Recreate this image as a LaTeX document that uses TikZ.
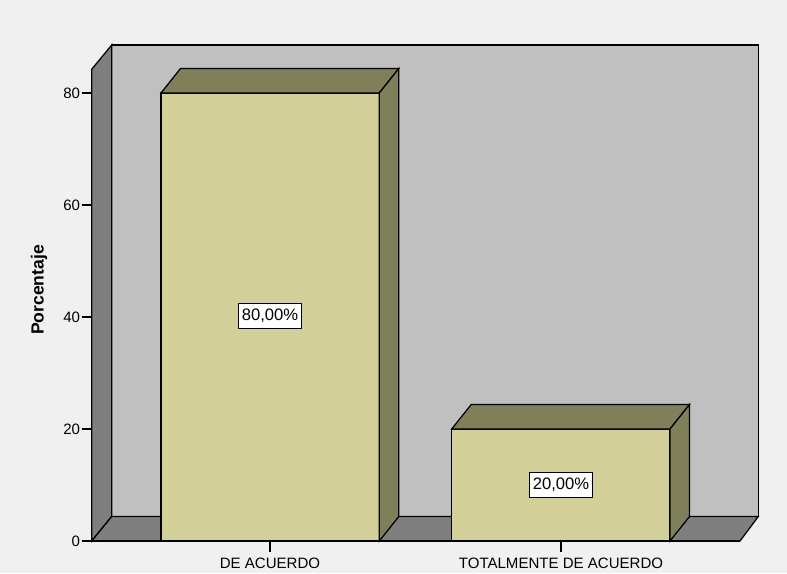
\documentclass[tikz,border=0pt]{standalone}
\usepackage{fontspec}
\setmainfont{Liberation Sans}
\definecolor{fondo}{HTML}{F0F0F0}
\definecolor{pared}{HTML}{C0C0C0}
\definecolor{suelo}{HTML}{7F7F7F}
\definecolor{barra}{HTML}{D3CF98}
\definecolor{barralado}{HTML}{7F7F5A}
\tikzset{
  caja/.style={draw,fill=white,line width=0.6pt,inner sep=0pt,minimum width=45pt,minimum height=18pt,font=\fontsize{11.8}{13}\selectfont},
  borde/.style={draw=black,line width=0.9pt,line join=miter}
}
\begin{document}
\begin{tikzpicture}[x=0.025cm,y=-0.025cm,font=\fontsize{10.7}{12}\selectfont]
\fill[fondo] (0,0) rectangle (787,573);
% back wall, left wall and floor
\draw[borde,fill=pared] (111.7,45) rectangle (758.3,516.5);
\draw[borde,fill=suelo] (91.7,69.3) -- (111.7,45) -- (111.7,516.5) -- (91.7,541) -- cycle;
\draw[borde,fill=suelo] (91.7,541) -- (111.7,516.5) -- (758.3,516.5) -- (740,541) -- cycle;
% bars: left edge / value
\foreach \x/\v in {161/80,451.7/20}{
  \pgfmathsetmacro{\t}{541-5.6*\v}
  \draw[borde,fill=barra] (\x,541) rectangle (\x+218.3,\t);
  \draw[borde,fill=barralado] (\x,\t) -- (\x+19.5,\t-24.5) -- (\x+237.8,\t-24.5) -- (\x+218.3,\t) -- cycle;
  \draw[borde,fill=barralado] (\x+218.3,541) -- (\x+218.3,\t) -- (\x+237.8,\t-24.5) -- (\x+237.8,516.5) -- cycle;
}
% axes
\draw[line width=0.9pt] (91.7,69.3) -- (91.7,541) -- (740,541);
\foreach \v in {0,20,...,80}{
  \draw[line width=0.9pt] (81.7,541-5.6*\v) -- (91.7,541-5.6*\v);
  \node[anchor=east,inner sep=1pt] at (81.7,541-5.6*\v) {\v};
}
\draw[line width=0.9pt] (270,541) -- (270,551.7);
\draw[line width=0.9pt] (561,541) -- (561,551.7);
\node at (270,563) {DE ACUERDO};
\node at (561,563) {TOTALMENTE DE ACUERDO};
\node[rotate=90,font=\fontsize{12.5}{14}\selectfont\bfseries] at (39,290) {Porcentaje};
% value labels
\node[caja] at (270,316) {80,00\%};
\node[caja] at (561,485) {20,00\%};
\end{tikzpicture}
\end{document}
